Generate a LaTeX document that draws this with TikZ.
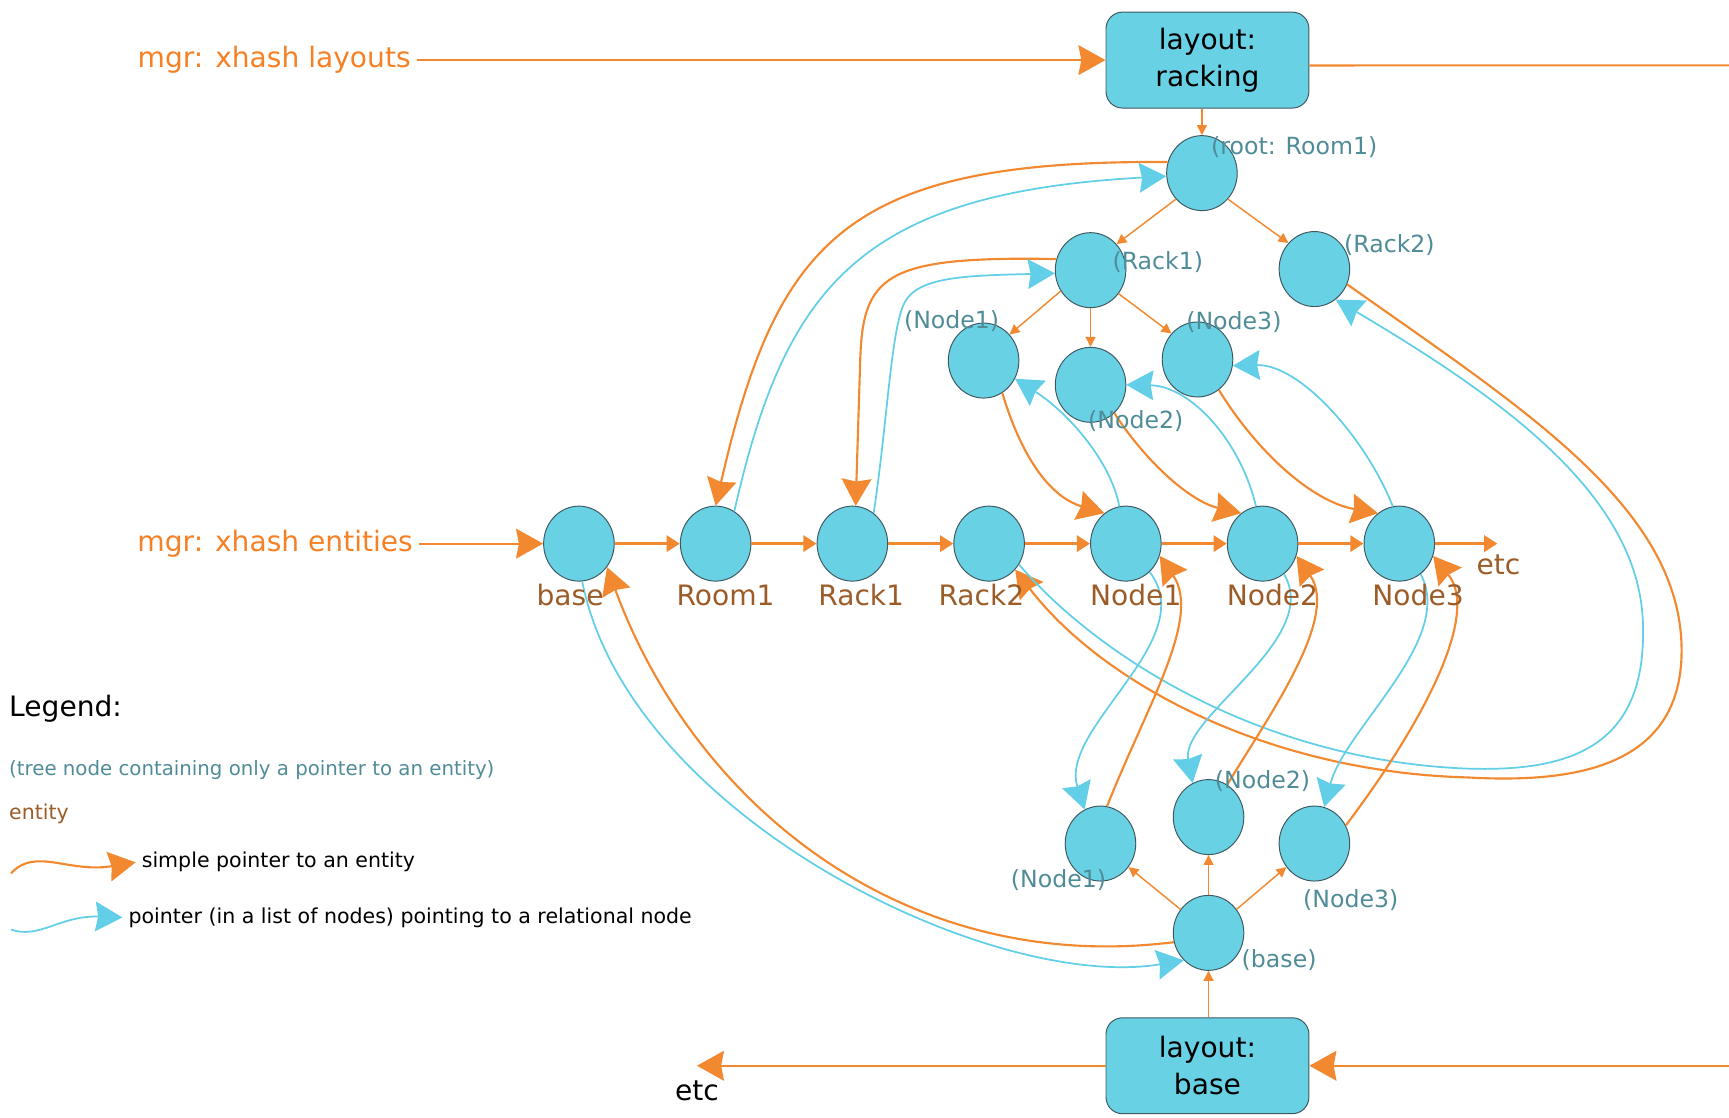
\documentclass[tikz,border=0pt]{standalone}
\usepackage{fontspec}
\setmainfont{DejaVu Sans}
\usepackage{tikz}
\usetikzlibrary{shapes.geometric, arrows.meta}
\usepackage{xcolor}
\definecolor{ciano}{RGB}{104,209,228}
\definecolor{bordo}{RGB}{62,88,96}
\definecolor{arancio}{RGB}{242,137,48}
\definecolor{azzurro}{RGB}{98,206,232}
\definecolor{testoarancio}{RGB}{246,128,36}
\definecolor{verdeacqua}{RGB}{80,140,152}
\definecolor{marrone}{RGB}{156,92,40}
\newcommand{\testoGrande}{\fontsize{14.5}{19.3}\selectfont}
\newcommand{\testoMedio}{\fontsize{12.2}{14}\selectfont}
\newcommand{\testoPiccolo}{\fontsize{10.6}{13}\selectfont}
\tikzset{
  nodo/.style = {ellipse, draw = bordo, line width = 0.5pt, fill = ciano, minimum width = 12.8mm, minimum height = 13.6mm, inner sep = 0pt},
  scatola/.style = {rectangle, rounded corners = 3mm, draw = bordo, line width = 0.5pt, fill = ciano, minimum width = 36.8mm, minimum height = 17.4mm, align = center, font = \testoGrande},
  etalbero/.style = {text = verdeacqua, font = \testoMedio, inner sep = 0pt},
  etentita/.style = {text = marrone, font = \testoGrande, inner sep = 0pt},
  puntatore/.style = {draw = arancio, line width = 1.1pt, -{Stealth[length = 4.9mm, width = 5.4mm, inset = 0.5mm]}},
  relazione/.style = {draw = azzurro, line width = 0.9pt, -{Stealth[length = 4.9mm, width = 5.4mm, inset = 0.5mm]}},
  ramo/.style = {draw = arancio, line width = 0.75pt, -{Triangle[length = 1.8mm, width = 1.8mm]}},
  catena/.style = {draw = arancio, line width = 1.7pt, -{Triangle[length = 2.4mm, width = 2.9mm]}},
}

\begin{document}
\begin{tikzpicture}[x = 0.2mm, y = -0.2mm]
    % cornice
    \useasboundingbox (0,0) rectangle (1568,1013);
    % layout
    \node[scatola] (racking) at (1095,54.5) {layout:\\racking};
    \node[scatola] (lbase) at (1095,966.5) {layout:\\base};
    \node[text = testoarancio, font = \testoGrande, anchor = east, inner sep = 3pt] (mgrlay) at (378,54.5) {mgr: xhash layouts};
    \node[text = testoarancio, font = \testoGrande, anchor = east, inner sep = 3pt] (mgrent) at (380,493) {mgr: xhash entities};
    % Coordinate (estremi liberi)
    \coordinate (fuoriA) at (1568,59.3);
    \coordinate (fuoriB) at (1568,966.5);
    \coordinate (etcA) at (1358,493);
    \coordinate (etcB) at (632,966.5);
    % albero racking
    \node[nodo] (troot) at (1090,157) {};
    \node[nodo] (trackuno) at (989,245) {};
    \node[nodo] (trackdue) at (1192,244) {};
    \node[nodo] (tnodouno) at (892,327) {};
    \node[nodo] (tnododue) at (989,349) {};
    \node[nodo] (tnodotre) at (1086,326) {};
    % entita'
    \node[nodo] (base) at (525,493) {};
    \node[nodo] (room) at (649,493) {};
    \node[nodo] (rackuno) at (773,493) {};
    \node[nodo] (rackdue) at (897,493) {};
    \node[nodo] (nodouno) at (1021,493) {};
    \node[nodo] (nododue) at (1145,493) {};
    \node[nodo] (nodotre) at (1269,493) {};
    % albero base
    \node[nodo] (bnodouno) at (998,765) {};
    \node[nodo] (bnododue) at (1096,741) {};
    \node[nodo] (bnodotre) at (1192,765) {};
    \node[nodo] (bbase) at (1096,846) {};
    % linee dei layout
    \draw[puntatore] (mgrlay.east) -- (racking.west);
    \draw[arancio, line width = 1.1pt] (racking.-3) -- (fuoriA);
    \draw[puntatore] (fuoriB) -- (lbase.east);
    \draw[puntatore] (lbase.west) -- (etcB);
    % rami dell'albero racking
    \draw[ramo] (racking.south -| troot.north) -- (troot.north);
    \draw[ramo] (troot.225) -- (trackuno.45);
    \draw[ramo] (troot.-45) -- (trackdue.135);
    \draw[ramo] (trackuno.215) -- (tnodouno.45);
    \draw[ramo] (trackuno.south) -- (tnododue.north);
    \draw[ramo] (trackuno.-40) -- (tnodotre.135);
    % rami dell'albero base
    \draw[ramo] (lbase.north -| bbase.south) -- (bbase.south);
    \draw[ramo] (bbase.140) -- (bnodouno.-40);
    \draw[ramo] (bbase.north) -- (bnododue.south);
    \draw[ramo] (bbase.40) -- (bnodotre.220);
    % catena delle entita'
    \draw[puntatore] (mgrent.east) -- (base.west);
    \draw[catena] (base) -- (room);
    \draw[catena] (room) -- (rackuno);
    \draw[catena] (rackuno) -- (rackdue);
    \draw[catena] (rackdue) -- (nodouno);
    \draw[catena] (nodouno) -- (nododue);
    \draw[catena] (nododue) -- (nodotre);
    \draw[catena] (nodotre) -- (etcA);
    % albero racking <-> entita'
    \draw[puntatore] (troot.162) .. controls (770,145) and (705,215) .. (room.north);
    \draw[relazione] (room.60) .. controls (712,260) and (780,175) .. (troot.185);
    \draw[puntatore] (trackuno.162) .. controls (800,232) and (782,250) .. (780,330) -- (rackuno.85);
    \draw[relazione] (rackuno.55) .. controls (805,380) and (808,300) .. (820,275) .. controls (832,250) and (880,250) .. (trackuno.185);
    \draw[puntatore] (trackdue.-25) .. controls (1380,370) and (1525,460) .. (1525,590) .. controls (1525,700) and (1420,710) .. (1330,705) .. controls (1150,700) and (1000,620) .. (rackdue.-45);
    \draw[relazione] (rackdue.-35) .. controls (1000,600) and (1150,690) .. (1330,697) .. controls (1420,700) and (1492,680) .. (1490,570) .. controls (1490,450) and (1360,360) .. (trackdue.-55);
    \draw[puntatore] (tnodouno.300) .. controls (925,410) and (950,450) .. (nodouno.125);
    \draw[relazione] (nodouno.100) .. controls (1008,420) and (970,375) .. (tnodouno.-30);
    \draw[puntatore] (tnododue.310) .. controls (1040,420) and (1080,455) .. (nododue.125);
    \draw[relazione] (nododue.100) .. controls (1125,400) and (1080,350) .. (tnododue.0);
    \draw[puntatore] (tnodotre.305) .. controls (1140,410) and (1190,455) .. (nodotre.125);
    \draw[relazione] (nodotre.100) .. controls (1240,400) and (1180,330) .. (tnodotre.-10);
    % albero base <-> entita'
    \draw[relazione] (base.-85) .. controls (570,740) and (900,900) .. (bbase.228);
    \draw[puntatore] (bbase.195) .. controls (820,885) and (630,730) .. (base.-40);
    \draw[relazione] (nodouno.-50) .. controls (1090,580) and (960,660) .. (bnodouno.115);
    \draw[puntatore] (bnodouno.80) .. controls (1040,640) and (1090,560) .. (nodouno.-20);
    \draw[relazione] (nododue.-55) .. controls (1200,580) and (1070,650) .. (bnododue.115);
    \draw[puntatore] (bnododue.60) .. controls (1150,650) and (1215,560) .. (nododue.-20);
    \draw[relazione] (nodotre.-55) .. controls (1320,580) and (1220,660) .. (bnodotre.75);
    \draw[puntatore] (bnodotre.30) .. controls (1280,670) and (1345,560) .. (nodotre.-20);
    % etichette albero
    \node[etalbero, anchor = west] (ltroot) at (1098,133) {(root: Room1)};
    \node[etalbero] (ltrackuno) at (1050,238) {(Rack1)};
    \node[etalbero] (ltrackdue) at (1260,222) {(Rack2)};
    \node[etalbero] (ltnodouno) at (863,291) {(Node1)};
    \node[etalbero] (ltnododue) at (1030,382) {(Node2)};
    \node[etalbero] (ltnodotre) at (1119,292) {(Node3)};
    \node[etalbero] (lbnodouno) at (960,798) {(Node1)};
    \node[etalbero] (lbnododue) at (1145,708) {(Node2)};
    \node[etalbero] (lbnodotre) at (1225,816) {(Node3)};
    \node[etalbero] (lbbase) at (1160,871) {(base)};
    % etichette entita'
    \node[etentita] (lbase) at (517,540) {base};
    \node[etentita] (lroom) at (658,540) {Room1};
    \node[etentita] (lrackuno) at (781,540) {Rack1};
    \node[etentita] (lrackdue) at (890,540) {Rack2};
    \node[etentita] (lnodouno) at (1030,540) {Node1};
    \node[etentita] (lnododue) at (1154,540) {Node2};
    \node[etentita] (lnodotre) at (1286,540) {Node3};
    \node[etentita] (letcA) at (1359,512) {etc};
    \node[font = \testoGrande, inner sep = 0pt] (letcB) at (632,989) {etc};
    % legenda
    \node[font = \testoGrande, anchor = west, inner sep = 0pt] (legenda) at (8,643) {Legend:};
    \node[font = \fontsize{10.2}{12}\selectfont, text = verdeacqua, anchor = west, inner sep = 0pt] (legalbero) at (8,698) {(tree node containing only a pointer to an entity)};
    \node[font = \testoPiccolo, text = marrone, anchor = west, inner sep = 0pt] (legentita) at (8,738) {entity};
    \node[font = \testoPiccolo, anchor = west, inner sep = 3pt] (legsemplice) at (123,782) {simple pointer to an entity};
    \node[font = \testoPiccolo, anchor = west, inner sep = 3pt] (legrelazione) at (111,832) {pointer (in a list of nodes) pointing to a relational node};
    \coordinate (ondaA) at (10,792);
    \coordinate (ondaB) at (10,843);
    \draw[puntatore] (ondaA) .. controls (32,768) and (62,792) .. (legsemplice.west);
    \draw[relazione] (ondaB) .. controls (35,852) and (55,830) .. (legrelazione.west);
\end{tikzpicture}
\end{document}
